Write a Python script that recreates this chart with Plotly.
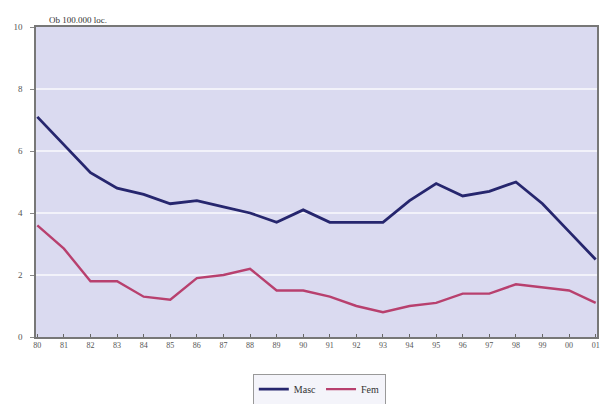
import plotly.graph_objects as go

years = ["80", "81", "82", "83", "84", "85", "86", "87", "88", "89", "90",
         "91", "92", "93", "94", "95", "96", "97", "98", "99", "00", "01"]
masc = [7.1, 6.2, 5.3, 4.8, 4.6, 4.3, 4.4, 4.2, 4.0, 3.7, 4.1,
        3.7, 3.7, 3.7, 4.4, 4.95, 4.55, 4.7, 5.0, 4.3, 3.4, 2.5]
fem = [3.6, 2.85, 1.8, 1.8, 1.3, 1.2, 1.9, 2.0, 2.2, 1.5, 1.5,
       1.3, 1.0, 0.8, 1.0, 1.1, 1.4, 1.4, 1.7, 1.6, 1.5, 1.1]
y_ticks = [0, 2, 4, 6, 8, 10]
unit_label = "Ob 100.000 loc."

serif = "Liberation Serif, Times New Roman, serif"

fig = go.Figure()
fig.add_trace(go.Scatter(x=list(range(len(years))), y=masc, mode="lines", name="Masc",
                         line=dict(color="#26266e", width=2.8)))
fig.add_trace(go.Scatter(x=list(range(len(years))), y=fem, mode="lines", name="Fem",
                         line=dict(color="#b8406e", width=2.4)))

fig.update_layout(
    width=600, height=404,
    margin=dict(l=36, r=3, t=27, b=67, autoexpand=False),
    paper_bgcolor="white",
    plot_bgcolor="#dadaf0",
    font=dict(family=serif, size=9, color="#444"),
    showlegend=True,
    legend=dict(orientation="h", x=0.505, xanchor="center", y=-0.118, yanchor="top",
                bordercolor="#999", borderwidth=1, bgcolor="#f4f4fa",
                font=dict(family=serif, size=10, color="#333"),
                itemwidth=30, tracegroupgap=0),
    annotations=[dict(text=unit_label, x=0.02, y=1.0, xref="paper", yref="paper",
                      xanchor="left", yanchor="bottom", showarrow=False,
                      font=dict(family=serif, size=9, color="#333"))],
)
fig.update_xaxes(
    range=[-0.05, len(years) - 0.95],
    tickmode="array", tickvals=list(range(len(years))), ticktext=years,
    ticks="inside", ticklen=3, tickcolor="#666",
    showgrid=False, zeroline=False,
    showline=True, linecolor="#777", linewidth=1.5, mirror=True,
    tickfont=dict(family=serif, size=8, color="#555"),
)
fig.update_yaxes(
    range=[0, 10], tickvals=y_ticks,
    ticks="outside", ticklen=4, tickcolor="#888",
    showgrid=True, gridcolor="#f2f2fa", gridwidth=2,
    zeroline=False,
    showline=True, linecolor="#777", linewidth=1.5, mirror=True,
    tickfont=dict(family=serif, size=9, color="#555"),
    ticklabelstandoff=6,
)

fig.write_html("out.html")
